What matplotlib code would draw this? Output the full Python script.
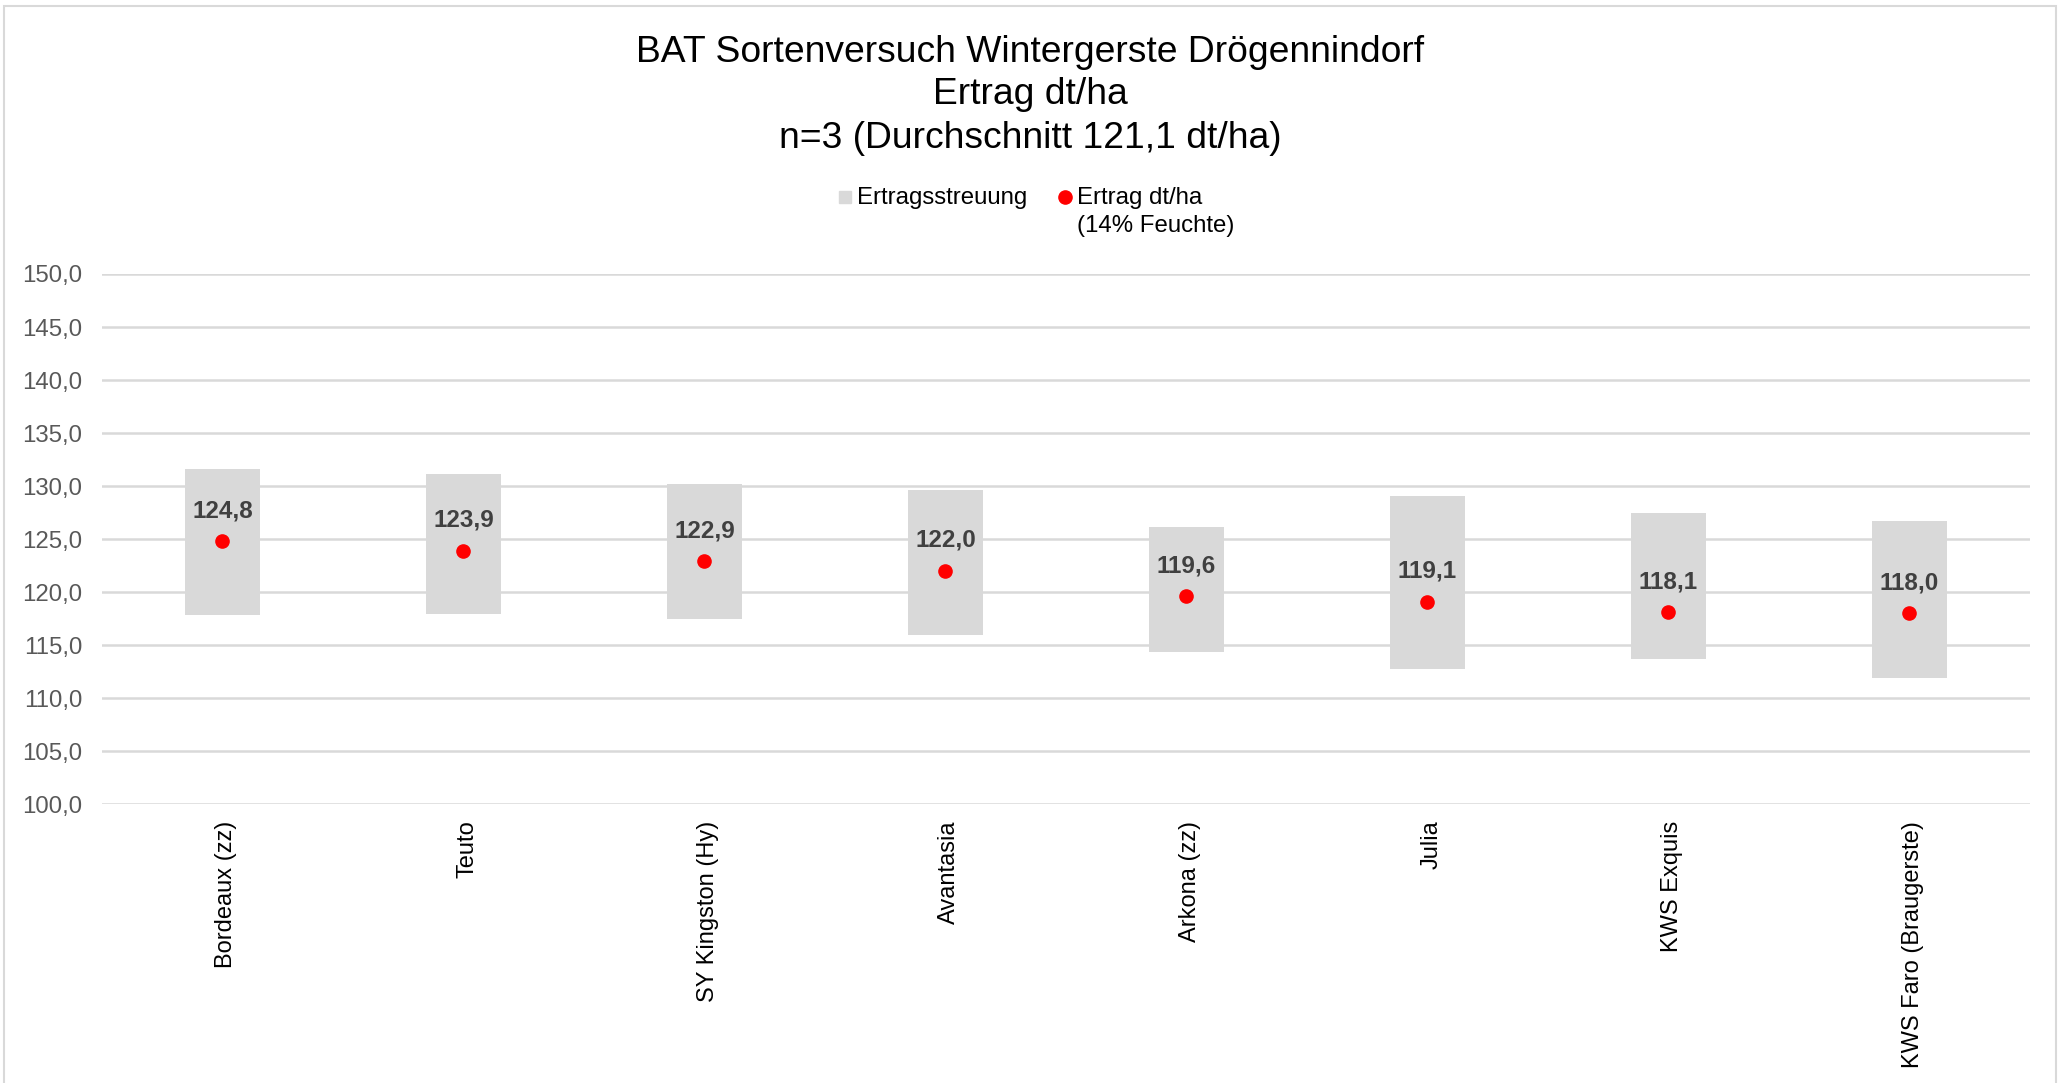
import matplotlib
matplotlib.use("Agg")
import matplotlib.pyplot as plt
from matplotlib.lines import Line2D
from matplotlib.patches import Rectangle
from matplotlib.ticker import FuncFormatter
from matplotlib.transforms import ScaledTranslation

plt.rcParams['font.family'] = ['Liberation Sans', 'DejaVu Sans']

# Sorten und Werte (dt/ha)
sorten = ['Bordeaux (zz)', 'Teuto', 'SY Kingston (Hy)', 'Avantasia',
          'Arkona (zz)', 'Julia', 'KWS Exquis', 'KWS Faro (Braugerste)']
ertrag = [124.8, 123.9, 122.9, 122.0, 119.6, 119.1, 118.1, 118.0]
min_wert = [117.8, 117.9, 117.5, 115.9, 114.3, 112.7, 113.7, 111.9]
max_wert = [131.6, 131.1, 130.2, 129.6, 126.1, 129.1, 127.5, 126.7]

grau = '#d9d9d9'
rot = '#ff0000'

fig = plt.figure(figsize=(20.6, 10.83), dpi=100)
ax = fig.add_axes([0.0495, 0.2576, 0.9359, 0.4894])

x = list(range(len(sorten)))
spanne = [hi - lo for lo, hi in zip(min_wert, max_wert)]
ax.bar(x, spanne, bottom=min_wert, width=0.31, color=grau, zorder=2)
ax.plot(x, ertrag, 'o', color=rot, ms=9.5, zorder=3)

for xi, v in zip(x, ertrag):
    ax.annotate(f'{v:.1f}'.replace('.', ','), (xi, v), xytext=(0, 22),
                textcoords='offset points', ha='center', va='center',
                fontsize=17.5, fontweight='bold', color='#404040', zorder=4)

ax.set_xlim(-0.5, len(sorten) - 0.5)
ax.set_ylim(100, 150)
ax.set_yticks(range(100, 151, 5))
ax.yaxis.set_major_formatter(FuncFormatter(lambda v, p: f'{v:.1f}'.replace('.', ',')))
ax.grid(axis='y', color=grau, lw=1.8, zorder=0)
ax.set_axisbelow(True)
for s in ax.spines.values():
    s.set_visible(False)
ax.tick_params(axis='y', length=0, labelsize=17.3, labelcolor='#595959', pad=14)
ax.set_xticks(x)
ax.set_xticklabels(sorten, rotation=90, fontsize=17, color='black')
ax.tick_params(axis='x', length=0, pad=12)
versatz = ScaledTranslation(4 / 100, 0, fig.dpi_scale_trans)
for lbl in ax.get_xticklabels():
    lbl.set_transform(lbl.get_transform() + versatz)

# Titel
fig.text(0.5, 1 - 52 / 1083, 'BAT Sortenversuch Wintergerste Drögennindorf',
         ha='center', va='center', fontsize=26.8)
fig.text(0.5, 1 - 95 / 1083, 'Ertrag dt/ha', ha='center', va='center', fontsize=26.8)
fig.text(0.5, 1 - 138 / 1083, 'n=3 (Durchschnitt 121,1 dt/ha)',
         ha='center', va='center', fontsize=26.8)

# Legende
W, H = 2060, 1083
fig.add_artist(Rectangle((839 / W, 1 - 203 / H), 12 / W, 12 / H,
                         transform=fig.transFigure, color=grau))
fig.text(857 / W, 1 - 198 / H, 'Ertragsstreuung', ha='left', va='center', fontsize=17.3)
fig.add_artist(Line2D([1065 / W], [1 - 197 / H], marker='o', color=rot, ms=9.5,
                      transform=fig.transFigure))
fig.text(1077 / W, 1 - 198 / H, 'Ertrag dt/ha', ha='left', va='center', fontsize=17.3)
fig.text(1077 / W, 1 - 226 / H, '(14% Feuchte)', ha='left', va='center', fontsize=17.3)

# Rahmen
fig.add_artist(Rectangle((4 / W, -0.01), 1 - 8 / W, 1 - 6 / H + 0.01,
                         transform=fig.transFigure, fill=False,
                         edgecolor='#d9d9d9', lw=1.5))

fig.savefig('out.png', dpi=100)
